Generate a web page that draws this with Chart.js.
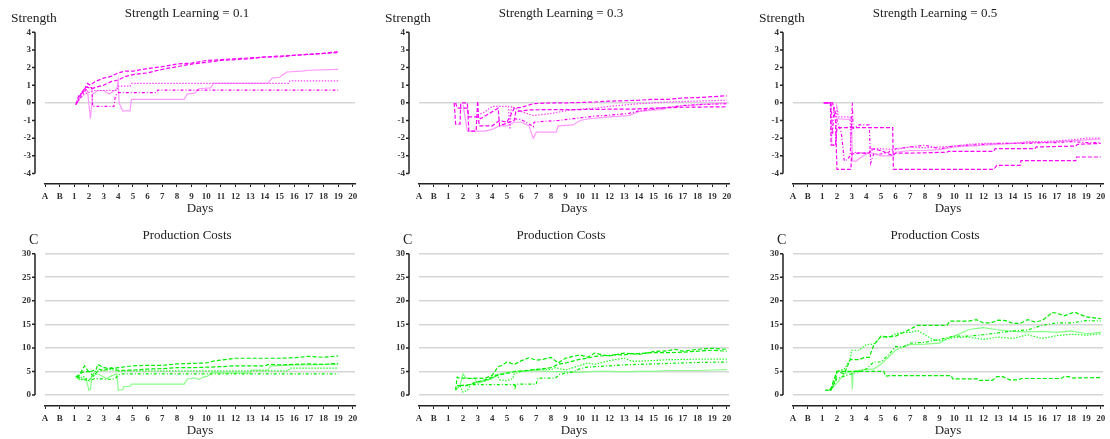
<!DOCTYPE html>
<html>
<head>
<meta charset="utf-8">
<script src="https://cdn.jsdelivr.net/npm/chart.js@4.4.0/dist/chart.umd.min.js"></script>
<style>
  body { margin: 0; background: #fff; }
  #wrap { position: relative; width: 1110px; height: 439px; overflow: hidden; }
  .panel { position: absolute; width: 374px; height: 220px; }
  .ylab { position: absolute; font-family: 'Liberation Serif', serif; color: #222; white-space: nowrap; }
</style>
</head>
<body>
<div id="wrap"></div>
<script>
// x axis: A, B, then days 1..20 (A = -1, B = 0 on the scale)
const dayLabels = ['A', 'B', '1', '2', '3', '4', '5', '6', '7', '8', '9', '10',
  '11', '12', '13', '14', '15', '16', '17', '18', '19', '20'];
const strengthTicks = [-4, -3, -2, -1, 0, 1, 2, 3, 4];
const costTicks = [0, 5, 10, 15, 20, 25, 30];
const learningRates = ['0.1', '0.3', '0.5'];

// ---- Strength, learning 0.1 ----
const str1A = [[1.1,-0.1],[1.3,0.4],[1.6,0.6],[1.9,1.1],[2.1,1.0],[2.4,1.2],[3,1.4],[3.5,1.5],[4,1.7],[4.5,1.8],[5,1.8],[6,1.95],[7,2.05],[8,2.2],[9,2.25],[10,2.4],[11,2.45],[12,2.5],[13,2.55],[14,2.6],[15,2.65],[16,2.7],[17,2.75],[18,2.8],[19,2.9]];
const str1B = [[1.2,0],[1.5,0.6],[1.8,0.9],[2.2,0.8],[2.5,0.9],[3,1.0],[3.5,1.2],[4,1.3],[4.5,1.5],[5,1.6],[6,1.7],[7,1.9],[8,2.05],[9,2.2],[10,2.3],[11,2.4],[12,2.45],[13,2.5],[14,2.6],[15,2.6],[16,2.7],[17,2.75],[18,2.8],[19,2.85]];
const str1C = [[1.3,0.2],[1.7,0.5],[2.0,0.6],[2.3,0.7],[3.9,0.7],[4.0,0.95],[4.8,0.95],[4.9,1.1],[15.6,1.1],[15.7,1.25],[19,1.25]];
const str1D = [[1.1,-0.1],[1.6,0.5],[1.9,0.9],[2.2,0.85],[2.25,-0.2],[3.7,-0.2],[3.8,0.4],[4.0,0.58],[6.6,0.58],[6.7,0.72],[19,0.72]];
const str1E = [[1.2,0.1],[1.5,0.6],[1.9,0.7],[2.1,-0.9],[2.25,0.5],[2.6,0.7],[3.0,0.7],[3.4,0.5],[3.9,0.8],[4.0,1.25],[4.05,0.0],[4.3,-0.45],[4.8,-0.45],[4.9,0.2],[8.5,0.2],[8.7,0.5],[9.2,0.55],[9.5,0.8],[10.3,0.85],[10.5,1.1],[14.2,1.1],[14.5,1.4],[15.0,1.45],[15.5,1.75],[16.5,1.8],[17,1.85],[19,1.9]];

// ---- Strength, learning 0.3 ----
const str3A = [[1.4,0],[1.5,-1.2],[1.8,-1.2],[1.85,0],[2.3,0],[2.4,-1.6],[2.9,-1.6],[3.0,0.1],[3.1,-1.3],[4.0,-1.3],[4.5,-1.0],[5.0,-1.1],[5.5,-0.3],[6,-0.25],[6.8,-0.05],[8,0],[9,0],[10,0.02],[11,0.05],[12,0.1],[13,0.12],[14,0.15],[15,0.2],[16,0.2],[17,0.28],[18,0.3],[19,0.35],[20,0.4]];
const str3B = [[1.5,0],[1.6,-0.3],[2.3,-0.3],[2.4,-0.8],[3.1,-0.8],[3.2,-0.9],[4.4,-0.3],[4.5,-1.3],[5.5,-1.0],[5.6,-0.5],[6.5,-0.4],[8,-0.38],[10,-0.38],[12,-0.36],[13.3,-0.36],[15,-0.3],[17,-0.25],[20,-0.22]];
const str3C = [[3.0,-0.7],[3.5,-0.5],[4.0,-0.2],[5.1,-0.2],[5.2,-1.5],[5.3,-0.2],[6.0,-0.5],[6.8,-0.72],[8,-0.6],[9,-0.45],[10,-0.35],[11,-0.3],[12,-0.2],[13.3,-0.1],[14,-0.05],[16,0.05],[18,0.1],[20,0.15]];
const str3D = [[5.5,-0.9],[6.0,-0.95],[6.8,-1.35],[6.85,-1.1],[7.5,-1.05],[8.5,-1.0],[9,-0.95],[10,-0.85],[11,-0.75],[12,-0.7],[13.3,-0.6],[14,-0.45],[15,-0.35],[16,-0.25],[17,-0.15],[18,-0.1],[20,-0.05]];
const str3E = [[2.0,-0.1],[2.3,-1.6],[3.5,-1.6],[4.0,-1.5],[4.5,-1.3],[5.0,-1.3],[5.5,-1.1],[6.0,-1.1],[6.5,-1.3],[6.8,-2.0],[7.0,-1.66],[8.36,-1.66],[8.5,-1.3],[9.5,-1.25],[10,-1.0],[10.6,-0.9],[12,-0.8],[13.3,-0.72],[14,-0.5],[15,-0.4],[15.6,-0.38],[16,-0.25],[18,-0.1],[20,0]];

// ---- Strength, learning 0.5 ----
const str5A = [[1.1,0],[1.55,0],[1.6,-2.4],[1.9,-2.4],[2.0,-1.4],[5.8,-1.4],[5.85,-3.77],[12.7,-3.77],[12.9,-3.54],[14.5,-3.54],[14.55,-3.28],[18.3,-3.28],[18.35,-3.07],[20,-3.07]];
const str5B = [[1.2,0],[1.7,0],[1.75,-0.2],[1.9,-1.0],[2.0,-3.77],[2.95,-3.77],[3.0,-2.9],[3.5,-2.85],[4.2,-2.85],[4.3,-2.6],[5,-2.7],[5.8,-3.0],[6,-2.85],[7,-2.85],[9.5,-2.8],[9.6,-2.75],[12.7,-2.75],[12.8,-2.6],[15.5,-2.6],[15.6,-2.5],[18.3,-2.45],[18.4,-2.35],[20,-2.3]];
const str5C = [[1.1,0],[1.6,0],[1.65,-2.4],[1.9,-2.4],[2.0,-0.3],[2.1,-0.8],[2.9,-0.8],[2.95,-2.8],[4.2,-2.85],[4.5,-2.6],[5,-2.6],[6,-2.65],[7,-2.5],[8,-2.55],[9,-2.5],[10,-2.45],[11,-2.35],[12,-2.3],[13,-2.3],[14,-2.3],[15,-2.2],[16,-2.2],[17,-2.15],[18,-2.1],[19,-2.0],[20,-2.0]];
const str5D = [[1.1,0],[1.6,0],[1.7,-1.8],[1.8,-0.2],[2.0,-1.0],[2.3,-1.7],[2.5,-3.3],[2.7,-3.2],[2.9,-3.0],[3.05,0],[3.1,-1.45],[3.5,-1.25],[4.2,-1.25],[4.3,-3.4],[4.5,-2.9],[5,-2.9],[5.5,-2.8],[6,-2.6],[7,-2.5],[8,-2.4],[8.5,-2.5],[9,-2.6],[10,-2.45],[11,-2.4],[12,-2.35],[13,-2.3],[14,-2.3],[15,-2.3],[16,-2.25],[17,-2.25],[18,-2.2],[19,-2.25],[20,-2.25]];
const str5E = [[2.0,-0.9],[3.0,-0.95],[3.05,-3.3],[3.3,-3.3],[3.8,-3.0],[4.2,-2.8],[5,-3.0],[5.8,-3.0],[6,-2.8],[7,-2.7],[8,-2.7],[9,-2.65],[10,-2.5],[11,-2.45],[12,-2.4],[13,-2.35],[14,-2.3],[15,-2.25],[16,-2.25],[17,-2.2],[18,-2.15],[19,-2.1],[20,-2.05]];

// ---- Production costs, learning 0.1 ----
const cost1A = [[1.1,3.8],[1.4,4.5],[1.7,6.2],[2.0,4.8],[2.5,5.5],[2.6,6.5],[3.0,5.8],[3.5,5.6],[4.0,5.8],[4.5,6.0],[5,6.2],[6,6.3],[7,6.3],[8,6.6],[9,6.7],[10,6.8],[10.5,7.2],[11,7.4],[12,7.8],[13,7.8],[14,7.8],[15,7.8],[16,7.9],[17,8.2],[18,8.0],[19,8.3]];
const cost1B = [[1.2,3.5],[1.5,4.8],[2.0,5.0],[2.3,4.0],[2.7,5.5],[3.0,5.2],[3.5,5.8],[4,5.2],[5,5.3],[6,5.5],[7,5.6],[8,5.8],[9,5.8],[10,5.9],[11,6.0],[12,6.2],[13,6.2],[14,6.2],[14.3,6.5],[15,6.4],[16,6.5],[17,6.6],[18,6.5],[19,6.7]];
const cost1C = [[1.3,3.2],[1.6,4.0],[2.0,3.0],[2.4,5.0],[3.0,5.2],[3.5,5.4],[4.0,5.0],[4.5,5.1],[15.6,5.1],[15.7,5.7],[19,5.7]];
const cost1D = [[1.2,4.0],[1.6,3.2],[2.2,3.2],[2.4,3.5],[3.5,3.3],[3.8,3.5],[4.0,4.3],[4.3,4.5],[19,4.5]];
const cost1E = [[1.1,3.8],[1.5,3.2],[1.8,3.5],[2.0,1.0],[2.1,1.2],[2.2,4.0],[2.6,4.5],[3.2,3.5],[3.5,4.0],[3.9,4.5],[4.0,1.0],[4.3,1.1],[4.4,1.8],[4.8,1.8],[4.9,2.3],[8.5,2.3],[8.7,3.4],[9.2,3.6],[9.5,3.3],[9.8,3.8],[10.1,4.0],[10.4,4.8],[11,4.7],[13,4.7],[13.1,5.3],[14.2,5.3],[14.4,6.2],[15.5,6.3],[16,6.4],[19,6.5]];

// ---- Production costs, learning 0.3 ----
const cost3A = [[1.5,1.0],[1.6,3.8],[1.8,3.5],[2.0,3.6],[2.5,3.5],[3.0,3.6],[3.5,3.5],[4.0,4.2],[4.4,6.0],[4.6,6.2],[5.0,7.0],[5.5,6.5],[6.0,7.3],[6.5,7.9],[7.0,7.4],[7.5,7.6],[8.0,8.0],[8.5,6.8],[9.0,7.8],[9.5,8.2],[10,8.5],[10.5,8.0],[11,8.9],[11.5,8.5],[12,8.3],[13,8.9],[14,8.6],[15,9.2],[16,9.4],[16.5,9.7],[17,9.3],[18,9.7],[19,9.9],[20,9.7]];
const cost3B = [[1.8,2.0],[2.5,2.2],[3.0,2.8],[3.5,3.2],[4.0,3.8],[4.5,4.3],[5.0,4.6],[5.6,5.0],[6,5.1],[7,5.4],[8,5.8],[8.5,6.5],[9,6.8],[9.5,7.2],[10,7.6],[10.5,7.8],[11,8.2],[12,8.4],[12.5,8.6],[13,8.5],[13.5,8.8],[14,8.8],[15,9.0],[16,9.0],[17,9.1],[18,9.3],[19,9.5],[20,9.3]];
const cost3C = [[1.5,1.2],[1.8,2.0],[2.0,0.6],[2.3,1.0],[2.6,2.5],[3.0,2.8],[3.5,3.0],[4.0,3.5],[4.3,4.5],[4.5,3.2],[5.0,3.0],[5.4,3.5],[5.5,4.5],[6.0,5.0],[6.5,5.2],[7,5.5],[8,5.4],[8.3,5.8],[9,5.3],[10,6.3],[10.5,6.8],[11,6.5],[12,7.3],[12.5,7.6],[13,7.8],[13.5,7.2],[14,7.2],[15,7.3],[16,7.5],[18,7.6],[20,7.6]];
const cost3D = [[1.6,2.0],[2.4,2.0],[2.5,2.2],[5.5,2.2],[5.55,1.2],[5.6,2.3],[7.0,2.3],[7.1,3.6],[8.3,3.6],[8.6,4.4],[9,4.6],[9.5,4.9],[10,5.6],[10.5,5.9],[11,6.0],[12,6.2],[13,6.4],[14,6.5],[15,6.6],[16,6.7],[17,6.8],[18,6.9],[20,7.0]];
const cost3E = [[1.5,1.0],[1.8,2.0],[2.0,4.5],[2.2,3.6],[2.8,3.5],[3.0,2.5],[3.5,3.0],[4.0,3.5],[4.5,4.5],[5.0,4.8],[5.5,5.0],[6,5.0],[7,5.2],[8,5.0],[9,4.9],[10,4.8],[11,5.0],[12,5.0],[13,4.9],[14,5.0],[15,5.0],[16,5.2],[17,5.2],[18,5.2],[19,5.3],[20,5.4]];

// ---- Production costs, learning 0.5 ----
const cost5A = [[1.2,1.0],[1.6,1.0],[1.7,2.5],[2.0,5.0],[5.2,5.0],[5.3,4.0],[5.6,4.1],[9.8,4.1],[9.9,3.4],[11.6,3.4],[11.7,3.1],[12.6,3.1],[12.9,3.9],[13.3,3.9],[13.8,3.2],[14.3,3.2],[14.6,3.5],[17.3,3.5],[17.5,3.9],[17.8,3.9],[18.1,3.6],[20,3.7]];
const cost5B = [[1.5,1.0],[1.9,3.0],[2.0,5.0],[2.5,4.5],[2.9,7.5],[3.0,7.5],[3.5,7.5],[3.9,8.0],[4.2,8.0],[4.5,10.5],[5.0,12.5],[5.5,12.3],[6,12.5],[6.5,13.2],[7,14.0],[7.5,14.8],[9.5,14.8],[9.7,15.7],[11,15.7],[11.5,16.0],[12,15.3],[12.5,15.3],[13,15.9],[13.5,15.8],[14,15.2],[14.5,15.2],[15,16.0],[15.5,15.5],[16,15.8],[16.7,17.5],[17,17.4],[17.5,16.8],[18.2,17.6],[19,16.6],[20,16.2]];
const cost5C = [[1.6,1.0],[2.0,5.0],[2.5,5.5],[2.9,7.5],[3.0,9.5],[3.5,9.5],[4.0,10.7],[4.5,10.8],[5.0,12.3],[5.5,12.3],[6,13.0],[6.5,13.3],[7,13.3],[7.5,13.7],[8,12.8],[8.5,11.8],[9,11.5],[10,12.2],[11,12.3],[12,11.8],[13,12.3],[14,12.0],[15,12.8],[16,12.0],[17,12.6],[18,12.9],[19,12.7],[20,13.0]];
const cost5D = [[1.2,1.0],[1.6,1.0],[2.0,3.5],[2.5,4.0],[3,4.5],[3.5,5.0],[4,5.5],[4.5,7.0],[5,7.0],[5.5,8.5],[6,10.3],[6.5,10.2],[7,11.0],[8,11.2],[9,11.8],[10,12.5],[11,12.5],[12,12.8],[13,13.2],[14,13.6],[15,13.8],[16,14.8],[17,15.3],[18,15.3],[19,15.8],[20,15.7]];
const cost5E = [[1.5,1.0],[2.0,2.5],[2.5,4.5],[3.0,5.0],[3.05,1.2],[3.1,5.0],[4,5.5],[4.5,5.5],[5,6.5],[5.5,8.0],[6,9.5],[6.5,10.2],[7,10.7],[8,10.8],[9,11.0],[9.5,12.0],[10,12.5],[11,13.9],[12,14.3],[13,13.8],[14,13.5],[15,13.4],[16,13.5],[17,13.3],[18,13.6],[19,13.0],[20,13.3]];

const strengthSeries = [
  [str1A, str1B, str1C, str1D, str1E],
  [str3A, str3B, str3C, str3D, str3E],
  [str5A, str5B, str5C, str5D, str5E]
];
const costSeries = [
  [cost1A, cost1B, cost1C, cost1D, cost1E],
  [cost3A, cost3B, cost3C, cost3D, cost3E],
  [cost5A, cost5B, cost5C, cost5D, cost5E]
];
const seriesKinds = ['dash', 'dash', 'dot', 'dashdot', 'light'];

const palettes = {
  pink:  { main: '#ff00ff', soft: '#ff44ff', pale: '#ff99ff' },
  green: { main: '#00ee00', soft: '#22ff22', pale: '#88ff88' }
};

function lineStyle(kind, pal) {
  if (kind === 'dash') return { borderColor: pal.main, borderDash: [4, 2] };
  if (kind === 'dot') return { borderColor: pal.soft, borderDash: [1.5, 1.5] };
  if (kind === 'dashdot') return { borderColor: pal.main, borderDash: [3, 2, 1, 2] };
  return { borderColor: pal.pale, borderDash: [] };
}

// y axis line sits a bit left of the plot, spanning only the tick range
const yAxisLine = {
  id: 'yAxisLine',
  afterDraw(chart) {
    const y = chart.scales.y;
    const vals = y.ticks.map(t => t.value);
    const x = chart.chartArea.left - 10;
    const ctx = chart.ctx;
    ctx.save();
    ctx.strokeStyle = '#222';
    ctx.lineWidth = 1.5;
    ctx.beginPath();
    ctx.moveTo(x, y.getPixelForValue(Math.max(...vals)));
    ctx.lineTo(x, y.getPixelForValue(Math.min(...vals)));
    vals.forEach(v => {
      const py = y.getPixelForValue(v);
      ctx.moveTo(x - 3, py);
      ctx.lineTo(x, py);
    });
    ctx.stroke();
    ctx.restore();
  }
};

const tickFont = { family: "'Liberation Serif', serif", size: 9, weight: 'bold' };

function makePanel(row, col) {
  const isStrength = row === 0;
  const wrap = document.getElementById('wrap');
  const div = document.createElement('div');
  div.className = 'panel';
  div.style.left = (col * 374) + 'px';
  div.style.top = (row * 220) + 'px';
  const canvas = document.createElement('canvas');
  canvas.width = 374;
  canvas.height = 220;
  div.appendChild(canvas);

  const lab = document.createElement('div');
  lab.className = 'ylab';
  if (isStrength) {
    lab.textContent = 'Strength';
    lab.style.cssText = 'left:11px;top:11px;font-size:13.5px;line-height:13px;';
  } else {
    lab.textContent = 'C';
    lab.style.cssText = 'left:29px;top:13px;font-size:14px;line-height:14px;';
  }
  div.appendChild(lab);
  wrap.appendChild(div);

  const pal = isStrength ? palettes.pink : palettes.green;
  const series = isStrength ? strengthSeries[col] : costSeries[col];
  const yTicks = isStrength ? strengthTicks : costTicks;

  new Chart(canvas, {
    type: 'line',
    data: {
      datasets: series.map((pts, i) => Object.assign({
        data: pts.map(p => ({ x: p[0], y: p[1] })),
        borderWidth: 1.2,
        pointRadius: 0,
        tension: 0,
        fill: false
      }, lineStyle(seriesKinds[i], pal)))
    },
    options: {
      responsive: false,
      animation: false,
      layout: { padding: 0 },
      plugins: {
        legend: { display: false },
        tooltip: { enabled: false },
        title: {
          display: true,
          text: isStrength ? 'Strength Learning = ' + learningRates[col] : 'Production Costs',
          color: '#222',
          font: { family: "'Liberation Serif', serif", size: 13, weight: 'normal' },
          padding: isStrength ? { top: 6.2, bottom: 10.5 } : { top: 7.7, bottom: 10.4 }
        }
      },
      scales: {
        x: {
          type: 'linear',
          min: -1,
          max: 20.15,
          afterFit: s => { s.height = isStrength ? 36 : 34; },
          afterBuildTicks: s => { s.ticks = dayLabels.map((_, i) => ({ value: i - 1 })); },
          border: { display: true, color: '#222', width: 1.5 },
          grid: { display: true, drawOnChartArea: false, drawTicks: true, tickLength: 3, color: '#222' },
          ticks: {
            autoSkip: false,
            maxRotation: 0,
            padding: 4,
            color: '#333',
            font: tickFont,
            callback: v => dayLabels[v + 1]
          },
          title: {
            display: true,
            text: 'Days',
            color: '#222',
            font: { family: "'Liberation Serif', serif", size: 13 },
            padding: { top: 0, bottom: isStrength ? 3.2 : 1.5 }
          }
        },
        y: {
          min: isStrength ? -4.6 : -2.34,
          max: isStrength ? 4 : 30,
          afterFit: s => { s.width = 45; },
          afterBuildTicks: s => { s.ticks = yTicks.map(v => ({ value: v })); },
          border: { display: false },
          grid: {
            drawTicks: false,
            lineWidth: 1.5,
            color: c => (isStrength && c.tick && c.tick.value !== 0) ? 'rgba(0,0,0,0)' : '#d6d6d6'
          },
          ticks: { padding: 14, color: '#333', font: tickFont }
        },
        // empty right-hand strip so the plot ends short of the panel edge
        yPad: {
          position: 'right',
          afterFit: s => { s.width = 19; },
          grid: { display: false },
          border: { display: false },
          ticks: { display: false }
        }
      }
    },
    plugins: [yAxisLine]
  });
}

for (let r = 0; r < 2; r++) {
  for (let c = 0; c < 3; c++) makePanel(r, c);
}
</script>
</body>
</html>
